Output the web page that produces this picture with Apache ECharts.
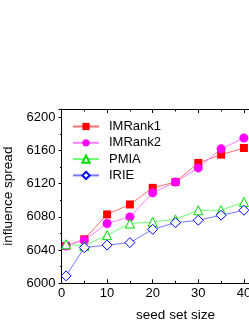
<!DOCTYPE html>
<html><head><meta charset="utf-8">
<script src="https://cdn.jsdelivr.net/npm/echarts@6/dist/echarts.min.js"></script>
<style>html,body{margin:0;padding:0;background:#fff}#c{width:249px;height:323px}</style>
</head><body><div id="c"></div>
<script>
const seedSizes = [1, 5, 10, 15, 20, 25, 30, 35, 40];
const imrank1 = [6045, 6053, 6083, 6095, 6115, 6122, 6145, 6155, 6163];
const imrank2 = [6045, 6052, 6072, 6080, 6109, 6122, 6139, 6162, 6175];
const pmia    = [6047, 6045, 6058, 6072, 6074, 6077, 6088, 6088, 6098];
const irie    = [6009, 6043, 6046, 6049, 6065, 6073, 6076, 6082, 6088];
const seriesNames = ['IMRank1', 'IMRank2', 'PMIA', 'IRIE'];
const xTitle = 'seed set size';
const yTitle = 'influence spread';

const pair = arr => seedSizes.map((x, i) => [x, arr[i]]);
const font = 'Liberation Sans, Arial, sans-serif';
function mk(name, data, color, lineColor, symbol, size, filled) {
  return {
    name, type: 'line', data: pair(data), symbol, symbolSize: size,
    lineStyle: { color: lineColor, width: 1 },
    itemStyle: filled ? { color: color, borderColor: color, borderWidth: 0 }
                      : { color: '#fff', borderColor: color, borderWidth: 1 },
    emphasis: { disabled: true }, z: 3
  };
}
const chart = echarts.init(document.getElementById('c'), null, { renderer: 'canvas' });
chart.setOption({
  animation: false,
  backgroundColor: '#fff',
  grid: { left: 61.5, top: 109, bottom: 39.7, right: -40.5, outerBoundsMode: 'none', containLabel: false },
  legend: {
    left: 67, top: 115, orient: 'vertical', itemWidth: 26, itemHeight: 9, itemGap: 3.3,
    textStyle: { fontFamily: font, fontSize: 13, color: '#000', lineHeight: 13, padding: [0, 0, 0, 5] },
    data: seriesNames
  },
  xAxis: [{
    type: 'value', min: 0, max: 50, interval: 10, position: 'bottom',
    name: xTitle, nameLocation: 'middle', nameGap: 25,
    nameTextStyle: { fontFamily: font, fontSize: 13.5, color: '#000' },
    axisLine: { lineStyle: { color: '#000', width: 1 } },
    axisTick: { inside: true, length: 4, lineStyle: { color: '#000' } },
    minorTick: { show: true, splitNumber: 2, length: 2.5, lineStyle: { color: '#000' } },
    axisLabel: { fontFamily: font, fontSize: 13, color: '#000', margin: 4 },
    splitLine: { show: false }
  }, {
    type: 'value', min: 0, max: 50, interval: 10, position: 'top',
    axisLine: { lineStyle: { color: '#000', width: 1 } },
    axisTick: { inside: true, length: 4, lineStyle: { color: '#000' } },
    minorTick: { show: true, splitNumber: 2, length: 2.5, lineStyle: { color: '#000' } },
    axisLabel: { show: false }, splitLine: { show: false }
  }],
  yAxis: {
    type: 'value', min: 6000, max: 6210, interval: 40,
    name: yTitle, nameLocation: 'middle', nameGap: 36,
    nameTextStyle: { fontFamily: font, fontSize: 13.5, color: '#000' },
    axisLine: { show: true, lineStyle: { color: '#000', width: 1 } },
    axisTick: { show: true, length: 3, lineStyle: { color: '#000' } },
    minorTick: { show: true, splitNumber: 2, length: 1.5, lineStyle: { color: '#000' } },
    axisLabel: { fontFamily: font, fontSize: 13, color: '#000', margin: 6, showMaxLabel: false,
                 formatter: v => String(v) },
    splitLine: { show: false }
  },
  series: [
    mk('IMRank1', imrank1, '#ff0000', '#ff7070', 'rect', 8, true),
    mk('IMRank2', imrank2, '#ff00ff', '#ff80ff', 'circle', 9, true),
    mk('PMIA', pmia, '#00dd00', '#70ff70', 'triangle', 9, false),
    mk('IRIE', irie, '#0000ff', '#7878ff', 'diamond', 10, false)
  ]
});
</script></body></html>
